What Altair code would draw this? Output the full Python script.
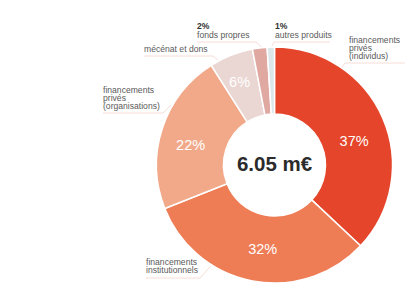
import altair as alt
import pandas as pd

# ---- data ----
categories = [
    "financements privés (individus)",
    "financements institutionnels",
    "financements privés (organisations)",
    "mécénat et dons",
    "fonds propres",
    "autres produits",
]
shares = [37, 32, 22, 6, 2, 1]
inside_labels = ["37%", "32%", "22%", "6%", "", ""]
colors = ["#E5452A", "#EE7C55", "#F2A98A", "#EAD6D2", "#DFA8A1", "#DCE7EA"]
total_label = "6.05 m€"

# outside labels (text with line breaks, bold?)
label_texts = [
    ("2%", True),
    ("fonds propres", False),
    ("1%", True),
    ("autres produits", False),
    ("financements\nprivés\n(individus)", False),
    ("mécénat et dons", False),
    ("financements\nprivés\n(organisations)", False),
    ("financements\ninstitutionnels", False),
]

# ---- layout (pixel positions / offsets of annotations) ----
CX, CY = 274.5, 165
R_OUT, R_IN, R_TXT = 118, 51, 84
LINE_H = 8
# small nudges of the inside percentage labels (dx, dy)
pct_nudge = [(2.5, 10), (4, 2), (-4, 6.5), (-4, -4)]
label_pos = [
    (197, 29), (197, 37.8),
    (275, 29), (275, 37.8),
    (349, 42.5),
    (144, 52),
    (103, 92.5),
    (146, 265),
]
leader_segments = [
    (197, 42, 256, 42), (256, 42, 264, 49),
    (271, 48, 274, 42), (274, 42, 330, 42),
    (345, 63, 405, 63), (345, 63, 339, 72),
    (144, 56, 213, 56), (213, 56, 225, 66),
    (103, 113, 163, 113), (163, 113, 171, 105),
    (146, 278, 200, 278), (200, 278, 211, 266),
]

FONT = "Liberation Sans"

df = pd.DataFrame({
    "cat": categories,
    "share": shares,
    "order": list(range(len(categories))),
    "pct": inside_labels,
})

base = alt.Chart(df).encode(
    theta=alt.Theta("share:Q", stack=True),
    order=alt.Order("order:Q"),
)

arcs = base.mark_arc(
    outerRadius=R_OUT, innerRadius=R_IN, stroke="white", strokeWidth=1.5
).encode(
    color=alt.Color("cat:N", scale=alt.Scale(domain=categories, range=colors), legend=None),
    x=alt.value(CX), y=alt.value(CY),
)

pct_layers = []
for i, (dx, dy) in enumerate(pct_nudge):
    pct_layers.append(
        base.mark_text(
            radius=R_TXT, fontSize=14.5, color="white", font=FONT, dx=dx, dy=dy
        ).encode(
            text=alt.condition(f"datum.order == {i}", "pct:N", alt.value("")),
            x=alt.value(CX), y=alt.value(CY),
        )
    )

center = alt.Chart(pd.DataFrame({"t": [total_label]})).mark_text(
    fontSize=20.5, fontWeight="bold", color="#2b2b2b", font=FONT
).encode(text="t:N", x=alt.value(CX), y=alt.value(CY))

lab_df = pd.DataFrame({
    "text": [t for t, b in label_texts],
    "w": ["bold" if b else "normal" for t, b in label_texts],
    "x": [p[0] for p in label_pos],
    "y": [p[1] for p in label_pos],
})

labels_normal = alt.Chart(lab_df).transform_filter("datum.w == 'normal'").mark_text(
    align="left", baseline="alphabetic", fontSize=8.6, color="#5a5a5a", font=FONT,
    lineBreak="\n", lineHeight=LINE_H,
).encode(
    x=alt.X("x:Q", scale=None), y=alt.Y("y:Q", scale=None), text="text:N"
)
labels_bold = alt.Chart(lab_df).transform_filter("datum.w == 'bold'").mark_text(
    align="left", baseline="alphabetic", fontSize=8.6, fontWeight="bold", color="#333333", font=FONT
).encode(
    x=alt.X("x:Q", scale=None), y=alt.Y("y:Q", scale=None), text="text:N"
)

seg_df = pd.DataFrame(leader_segments, columns=["x", "y", "x2", "y2"])
leaders = alt.Chart(seg_df).mark_rule(color="#F4D3CB", strokeWidth=0.8).encode(
    x=alt.X("x:Q", scale=None), y=alt.Y("y:Q", scale=None),
    x2="x2:Q", y2="y2:Q",
)

chart = alt.layer(leaders, arcs, *pct_layers, center, labels_normal, labels_bold).properties(
    width=415, height=297, padding=0,
    autosize=alt.AutoSizeParams(type="none"),
    background="white",
).configure_view(stroke=None)

chart.save("out.html", embed_options={"renderer": "svg", "actions": False})
